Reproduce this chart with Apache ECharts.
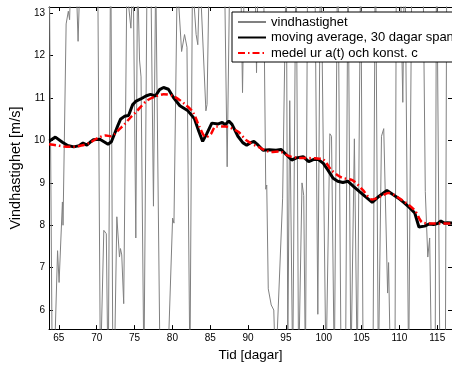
<!DOCTYPE html>
<html>
<head>
<meta charset="utf-8">
<script src="https://cdn.jsdelivr.net/npm/echarts@6/dist/echarts.min.js"></script>
<style>
html,body{margin:0;padding:0;background:#fff;}
#chart{width:452px;height:367px;}
</style>
</head>
<body>
<div id="chart"></div>
<script>
// ---- data (days, m/s) ----
const xTicks = [65, 70, 75, 80, 85, 90, 95, 100, 105, 110, 115];
const yTicks = [6, 7, 8, 9, 10, 11, 12, 13];
const xMin = 63.7, xMax = 116.95;
const yMin = 5.55, yMax = 13.15;

const windDays = [63.70,64.15,64.41,64.83,65.03,65.47,65.55,65.96,66.25,66.42,66.67,67.32,67.54,67.90,
  70.10,70.49,70.94,71.27,71.52,71.85,72.14,72.40,72.66,73.01,73.14,73.31,73.57,73.98,74.52,74.82,
  75.17,75.40,75.66,75.86,76.24,76.70,77.15,77.50,77.80,78.38,79.41,80.03,80.21,80.64,81.22,81.61,
  81.93,82.32,82.65,83.14,83.36,83.62,84.43,84.58,84.91,86.85,87.24,87.62,88.98,89.27,89.56,90.92,
  91.12,91.37,92.02,92.34,92.47,92.67,93.06,93.40,93.64,94.57,95.06,95.25,95.51,95.90,96.35,96.68,
  97.13,97.36,97.58,97.90,98.81,99.22,99.59,100.30,100.81,101.03,101.40,101.85,102.30,102.88,103.21,
  103.59,104.05,104.43,104.89,105.21,106.50,106.83,107.22,107.63,107.93,108.44,108.57,108.83,109.41,
  109.61,110.12,110.45,110.71,111.22,111.68,113.10,113.42,113.75,114.00,114.26,114.72,114.91,115.36,
  116.07,116.27,116.98];
const windValues = [15,4,4.8,7.4,6.65,8.55,8.0,12.75,13.05,12.85,14.5,13.6,12.34,14.5,
  15,4.5,7.88,7.8,4.0,15,4.5,5.3,8.2,7.25,7.45,7.3,6.15,13.6,12.65,14,
  7.7,14,11.9,11.5,4.5,15,14,8.45,14,4.5,4.8,8.17,8.05,13.8,12.1,12.5,
  12.2,4.5,13.8,12.5,12.26,14,10.7,10.85,14.5,14.5,9.38,14.5,14.5,11.13,14.5,14,
  11.6,14.5,14.5,8.85,8.95,6.5,6.12,6.0,4.5,8.64,14.5,5.0,10.94,4.5,15,4.5,
  9.0,8.7,4.5,15,14.5,5.9,15,4.5,10.16,10.1,4.5,15,4.5,4.5,14.5,
  4.5,10.04,4.5,14.5,4.5,4.5,15,4.5,10.1,10.28,6.4,7.12,4.5,4.5,
  15,14,10.9,15,4.5,15,14.5,8.8,7.25,7.7,4.5,4.5,15,4.5,
  4.5,15,15];

const avgDays = [63.74,64.54,65.47,66.16,66.97,67.71,68.19,68.70,69.26,69.56,70.42,71.07,71.50,71.94,
  72.36,72.79,73.14,73.66,74.21,74.73,75.21,75.82,76.50,77.11,77.76,78.31,78.83,79.48,80.12,80.99,
  82.06,82.93,83.49,84.00,84.52,85.21,86.07,86.59,86.98,87.46,87.88,88.66,89.30,89.82,90.34,90.77,
  91.34,91.98,92.80,93.70,94.35,94.87,95.77,96.42,97.28,98.01,98.62,99.22,99.95,100.56,101.24,101.85,
  102.53,103.18,103.92,104.69,105.47,106.41,107.28,108.35,109.09,109.87,110.64,111.38,112.03,112.58,
  113.32,113.97,114.52,115.04,115.47,115.94,116.33,116.98];
const avgValues = [9.99,10.08,9.96,9.88,9.85,9.88,9.94,9.89,9.98,10.02,10.03,9.96,9.91,9.97,
  10.16,10.35,10.50,10.57,10.59,10.84,10.93,10.98,11.05,11.09,11.05,11.20,11.25,11.21,11.02,10.82,
  10.70,10.51,10.22,9.98,10.15,10.41,10.39,10.43,10.37,10.46,10.38,10.10,9.95,9.89,9.95,9.98,
  9.89,9.77,9.78,9.77,9.79,9.70,9.54,9.59,9.62,9.50,9.55,9.56,9.46,9.30,9.11,9.04,
  9.01,9.04,8.92,8.80,8.68,8.54,8.68,8.82,8.73,8.64,8.53,8.41,8.29,7.96,
  7.98,8.03,8.02,8.04,8.10,8.05,8.06,8.05];

const modelDays = [63.70,64.61,65.64,66.93,67.97,69.00,70.17,71.20,71.85,72.36,73.01,73.66,74.30,75.34,
  76.63,77.80,78.83,80.12,81.64,82.71,83.58,84.43,85.08,85.72,87.02,87.66,88.75,89.82,91.34,93.06,
  94.13,95.42,96.72,98.87,99.95,101.03,102.33,103.83,105.12,106.41,107.71,108.57,110.29,112.03,
  113.10,114.61,116.33,116.98];
const modelValues = [9.91,9.89,9.86,9.85,9.88,9.94,10.06,10.12,10.10,10.15,10.27,10.38,10.51,10.70,
  10.94,11.04,11.09,11.05,10.86,10.67,10.32,10.08,10.15,10.33,10.33,10.30,10.20,10.00,9.85,9.73,
  9.74,9.63,9.59,9.58,9.55,9.30,9.13,9.06,8.84,8.61,8.70,8.76,8.60,8.35,
  8.06,8.04,8.04,8.04];

const seriesNames = ['vindhastighet', 'moving average, 30 dagar span', 'medel ur a(t) och konst. c'];

function zip(xs, ys) { return xs.map((x, i) => [x, ys[i]]); }

const FONT = 'Liberation Sans, Arial, Helvetica, sans-serif';

const chart = echarts.init(document.getElementById('chart'), null, {renderer: 'canvas'});

function xAx(pos, labels) {
  return {
    type: 'value', min: xMin, max: xMax, position: pos,
    axisLine: {show: true, onZero: false, lineStyle: {color: '#000', width: 1}},
    axisTick: {show: true, inside: true, length: 4, customValues: xTicks, lineStyle: {color: '#000', width: 1}},
    axisLabel: {show: labels, customValues: xTicks, fontSize: 10, color: '#000', margin: 4, fontFamily: FONT},
    splitLine: {show: false},
    name: labels ? 'Tid [dagar]' : '', nameLocation: 'middle', nameGap: 10,
    nameTextStyle: {fontSize: 13.5, color: '#000', fontFamily: FONT}
  };
}
function yAx(pos, labels) {
  return {
    type: 'value', min: yMin, max: yMax, position: pos,
    axisLine: {show: true, onZero: false, lineStyle: {color: '#000', width: 1}},
    axisTick: {show: true, inside: true, length: 4, customValues: yTicks, lineStyle: {color: '#000', width: 1}},
    axisLabel: {show: labels, customValues: yTicks, fontSize: 10, color: '#000', margin: 4, fontFamily: FONT},
    splitLine: {show: false},
    name: labels ? 'Vindhastighet [m/s]' : '', nameLocation: 'middle', nameGap: 17, nameRotate: 90,
    nameTextStyle: {fontSize: 14.5, color: '#000', fontFamily: FONT}
  };
}

chart.setOption({
  animation: false,
  backgroundColor: '#fff',
  grid: {left: 43, right: -3, top: 7, bottom: 35},
  xAxis: [xAx('bottom', true), xAx('top', false)],
  yAxis: [yAx('left', true), yAx('right', false)],
  legend: {
    orient: 'vertical', left: 232, top: 12,
    padding: [3, 5, 2, 5], itemGap: 1.5, itemWidth: 28, itemHeight: 14,
    backgroundColor: '#fff', borderColor: '#000', borderWidth: 1, borderRadius: 0,
    selectedMode: false,
    itemStyle: {opacity: 0},
    textStyle: {fontSize: 13, color: '#000', fontFamily: FONT, lineHeight: 14, width: 176, overflow: 'none'},
    data: seriesNames
  },
  series: [
    {
      name: seriesNames[0], type: 'line', data: zip(windDays, windValues),
      symbol: 'none', clip: true, z: 1,
      lineStyle: {color: '#808080', width: 1}, itemStyle: {color: '#808080'}
    },
    {
      name: seriesNames[1], type: 'line', data: zip(avgDays, avgValues),
      symbol: 'none', clip: true, z: 2,
      lineStyle: {color: '#000', width: 3}, itemStyle: {color: '#000'}
    },
    {
      name: seriesNames[2], type: 'line', data: zip(modelDays, modelValues),
      symbol: 'none', clip: true, z: 3, smooth: 0.3,
      lineStyle: {color: '#ff0000', width: 2.5, type: [7, 3, 1.5, 3], cap: 'butt'}, itemStyle: {color: '#ff0000'}
    }
  ]
});
</script>
</body>
</html>
